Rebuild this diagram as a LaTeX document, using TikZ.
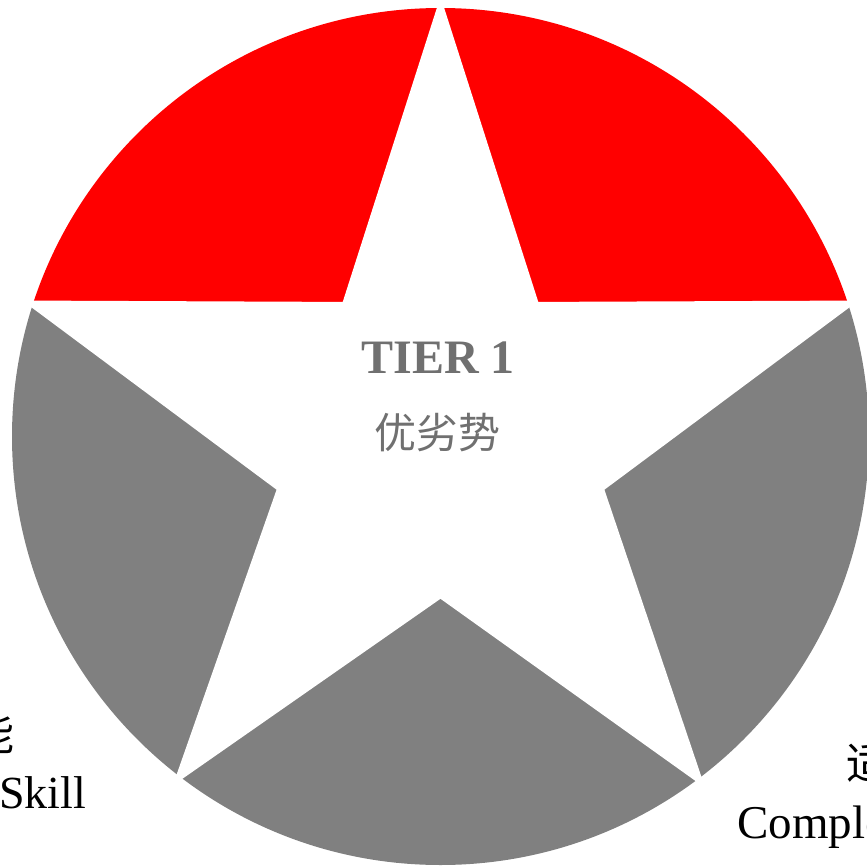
\documentclass[tikz,border=0pt]{standalone}
\usepackage{fontspec}
\setmainfont{Liberation Serif}
\newfontfamily\cjk{Noto Sans CJK SC}
\definecolor{tgray}{RGB}{112,112,112}
\definecolor{fgray}{RGB}{128,128,128}
\definecolor{fred}{RGB}{255,0,0}
\tikzset{
  lbl/.style={inner sep=0pt, text=black},
  mid/.style={text=tgray}
}
\begin{document}
\begin{tikzpicture}[x=1pt,y=-1pt]
\useasboundingbox (0,0) rectangle (866,866);
\coordinate (c) at (440.5,436.5);
\begin{scope}
  \clip (0,0) rectangle (900,304);
  \fill[fred] (c) circle (428.5);
\end{scope}
\begin{scope}
  \clip (0,304) rectangle (900,900);
  \fill[fgray] (c) circle (428.5);
\end{scope}
\fill[white, draw=white, line width=7pt, line join=round, shift={(c)}]
  (-90:428.5) -- (-54:162) -- (-18:428.5) -- (18:168) -- (53:428.5) --
  (90:158) -- (127.5:428.5) -- (162:168) -- (198:428.5) -- (234:162) -- cycle;
\node[mid, font=\bfseries\fontsize{48}{48}\selectfont] (tier) at (438,358) {TIER 1};
\node[mid, font=\cjk\fontsize{42}{42}\selectfont] (adv) at (437,433) {优劣势};
\node[lbl, anchor=east, font=\cjk\fontsize{44}{44}\selectfont] (neng) at (15,734) {技能};
\node[lbl, anchor=base west, font=\fontsize{46}{46}\selectfont] (skill) at (-1,808) {Skill};
\node[lbl, anchor=west, font=\cjk\fontsize{44}{44}\selectfont] (zhe) at (846,763) {适配};
\node[lbl, anchor=base west, font=\fontsize{47}{47}\selectfont] (compl) at (737,838) {Complexity};
\end{tikzpicture}
\end{document}
